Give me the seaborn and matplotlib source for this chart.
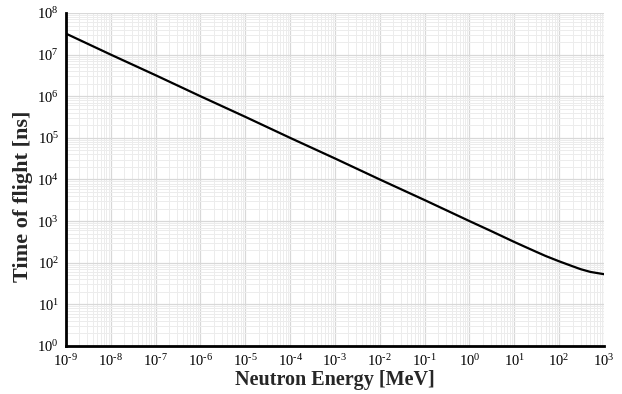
import matplotlib
matplotlib.use("Agg")
import matplotlib.pyplot as plt
import seaborn as sns
import pandas as pd
import numpy as np
from matplotlib.ticker import LogLocator, FuncFormatter, NullFormatter

energy_mev = [1e-9, 1e-8, 1e-7, 1e-6, 1e-5, 1e-4, 1e-3, 1e-2, 1e-1, 1e0, 3e0, 1e1,
              2e1, 3e1, 5e1, 1e2, 2e2, 3e2, 5e2, 1e3]
tof_ns = [3.2e7, 1.0e7, 3.2e6, 1.0e6, 3.2e5, 1.0e5, 3.2e4, 1.0e4, 3.2e3, 1.0e3, 5.8e2, 3.15e2,
          2.25e2, 1.85e2, 1.45e2, 1.08e2, 8.2e1, 7.0e1, 6.0e1, 5.3e1]

df = pd.DataFrame({"Neutron Energy [MeV]": energy_mev, "Time of flight [ns]": tof_ns})

sns.set_style("white")
plt.rcParams['font.family'] = ['Liberation Serif', 'DejaVu Serif']
plt.rcParams['mathtext.fontset'] = 'custom'
plt.rcParams['mathtext.rm'] = 'Liberation Serif'
plt.rcParams['mathtext.it'] = 'Liberation Serif:italic'
plt.rcParams['mathtext.bf'] = 'Liberation Serif:bold'

fig = plt.figure(figsize=(6.22, 3.94), dpi=100)
ax = fig.add_axes([0.106, 0.122, 0.865, 0.845])

sns.lineplot(data=df, x="Neutron Energy [MeV]", y="Time of flight [ns]", ax=ax,
             color="black", linewidth=1.6)
ax.set_xscale("log")
ax.set_yscale("log")
ax.set_xlim(1e-9, 1e3)
ax.set_ylim(1e0, 1e8)


def fmt(v, pos):
    e = int(round(np.log10(v)))
    s = str(e).replace("-", "\u2010")
    return "$\\mathrm{10^{" + s + "}}$"


ax.xaxis.set_major_locator(LogLocator(base=10, numticks=20))
ax.yaxis.set_major_locator(LogLocator(base=10, numticks=20))
ax.xaxis.set_minor_locator(LogLocator(base=10, subs=np.arange(2, 10), numticks=200))
ax.yaxis.set_minor_locator(LogLocator(base=10, subs=np.arange(2, 10), numticks=200))
ax.xaxis.set_major_formatter(FuncFormatter(fmt))
ax.yaxis.set_major_formatter(FuncFormatter(fmt))
ax.xaxis.set_minor_formatter(NullFormatter())
ax.yaxis.set_minor_formatter(NullFormatter())

ax.grid(which="major", color="#d8d8d8", linewidth=0.9)
ax.grid(which="minor", color="#ececec", linewidth=0.7)
ax.set_axisbelow(True)

for s in ["top", "right"]:
    ax.spines[s].set_visible(False)
for s in ["left", "bottom"]:
    ax.spines[s].set_color("black")
    ax.spines[s].set_linewidth(2.0)

ax.tick_params(axis="both", which="major", direction="in", length=3, width=0.6,
               labelsize=10.5, colors="black", pad=5)
ax.tick_params(axis="both", which="minor", direction="in", length=2, width=0.5, colors="#555555")

ax.set_xlabel("Neutron Energy [MeV]", fontsize=14.5, fontweight="bold", labelpad=1)
ax.set_ylabel("Time of flight [ns]", fontsize=16, fontweight="bold")
ax.yaxis.set_label_coords(-0.062, 0.45)

fig.savefig("out.png", dpi=100, facecolor="white")
